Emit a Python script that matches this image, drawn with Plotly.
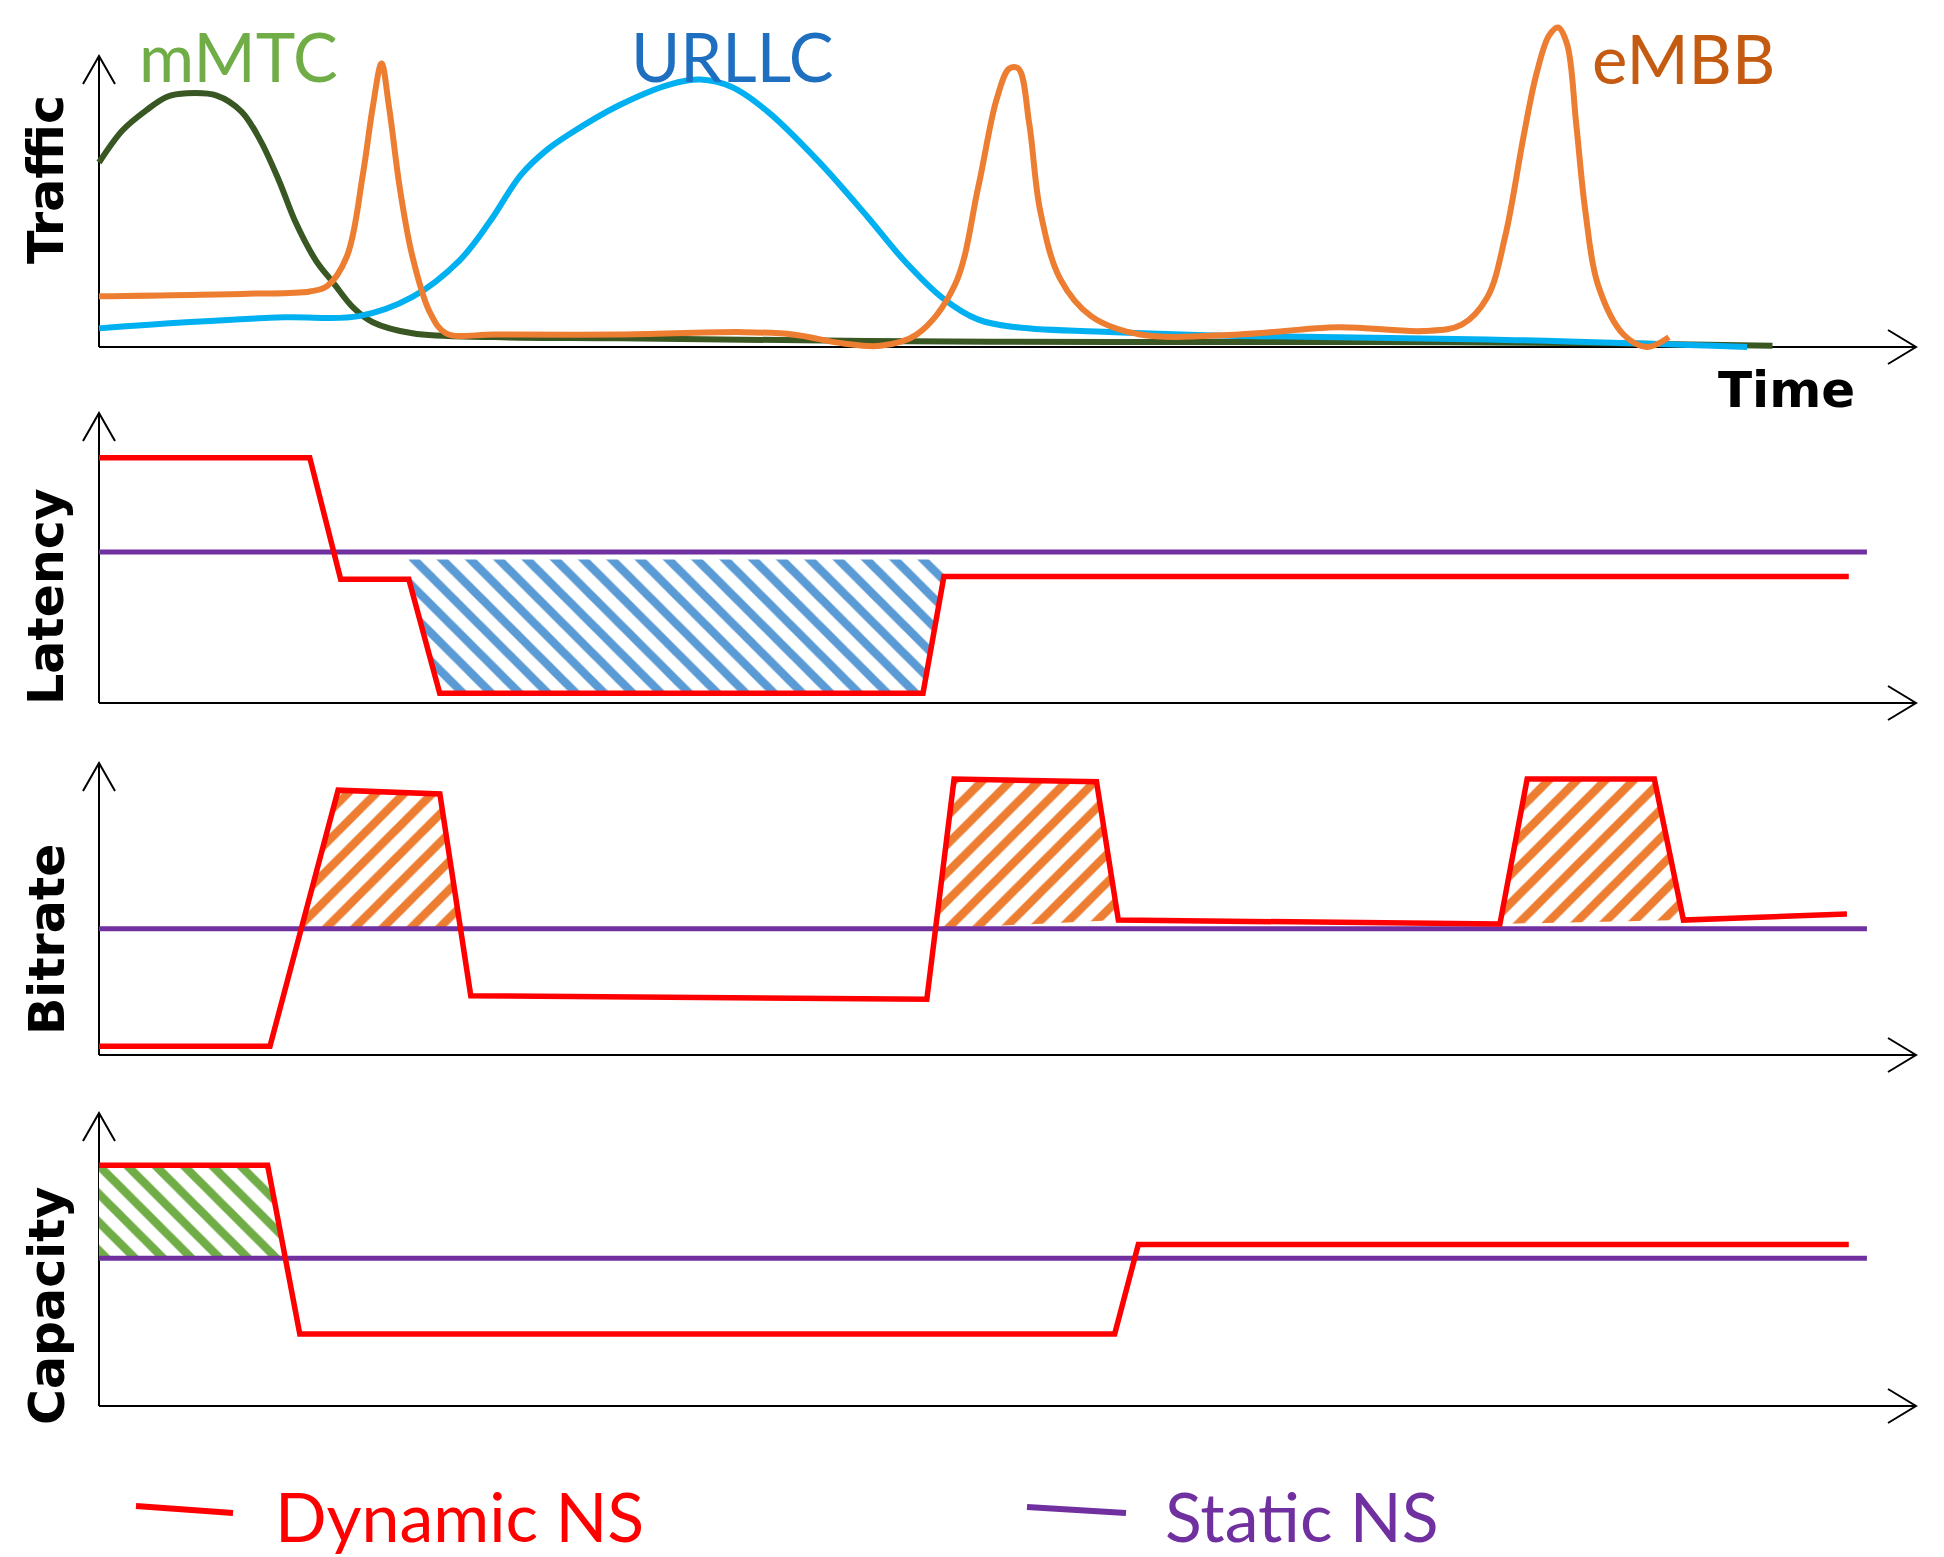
import numpy as np
import plotly.graph_objects as go

W, H = 1944, 1557

# ---------------- data (time units: 0 = vertical axis, 100 = arrow tip) ----------------
# Traffic panel (relative traffic, 10 = top of vertical axis)
MMTC_T = [0, 1.30, 2.59, 3.75, 4.84, 6.48, 7.84, 8.87, 9.89, 10.84, 11.93, 12.89, 13.98, 15.07, 17.25, 21.8, 28.6, 42.3, 55.9, 69.6, 83.2, 92.1]
MMTC_V = [6.34, 7.45, 8.13, 8.60, 8.72, 8.64, 8.09, 7.11, 5.74, 4.26, 2.98, 2.21, 1.36, 0.85, 0.47, 0.34, 0.30, 0.21, 0.17, 0.17, 0.13, 0.04]

URLLC_T = [0, 4.77, 10.2, 14.3, 17.25, 19.85, 21.5, 23.2, 24.6, 25.9, 28.6, 31.4, 33.1, 34.8, 36.8, 39.6, 42.3, 44.3, 46.4, 48.4, 50.5, 55.9, 62.7, 76.4, 90.7]
URLLC_V = [0.64, 0.85, 1.02, 1.06, 1.72, 2.98, 4.30, 5.90, 6.75, 7.32, 8.30, 9.02, 9.19, 8.94, 8.09, 6.38, 4.47, 2.98, 1.70, 0.94, 0.68, 0.51, 0.38, 0.26, 0.0]

EMBB_T = [0, 8.18, 11.6, 12.55, 13.64, 14.53, 15.07, 15.55, 15.96, 16.57, 17.25, 18.21, 19.10, 21.8, 28.6, 35.5, 38.2, 40.9, 43.0,
          45.0, 47.1, 48.4, 49.4, 50.1, 50.6, 51.2, 51.8, 52.9, 54.6, 57.3, 62.7, 68.2, 72.9, 75.0,
          76.4, 77.4, 78.4, 79.1, 79.8, 80.3, 80.8, 81.3, 81.8, 82.5, 83.9, 85.2, 86.4]
EMBB_V = [1.74, 1.83, 1.91, 2.09, 3.11, 5.96, 8.26, 9.74, 8.26, 5.40, 3.11, 1.19, 0.47, 0.43, 0.43, 0.51, 0.43, 0.13, 0.04,
          0.43, 2.13, 5.53, 8.51, 9.57, 9.57, 7.66, 4.68, 2.34, 1.06, 0.43, 0.43, 0.68, 0.55, 0.77,
          1.70, 3.83, 7.23, 9.36, 10.7, 10.98, 10.4, 7.66, 4.68, 2.13, 0.43, 0.0, 0.34]

# Latency panel
LAT_DYN_T = [0, 11.6, 13.3, 17.05, 18.75, 45.35, 46.5, 96.3]
LAT_DYN_V = [8.46, 8.46, 4.27, 4.27, 0.34, 0.34, 4.36, 4.36]
LAT_STATIC = 5.21
LAT_HATCH = [(17.05, 46.5, 4.95)]          # (start, end, closing level)

# Bitrate panel
BIT_DYN_T = [0, 9.41, 13.16, 18.76, 20.46, 45.56, 47.06, 54.9, 56.1, 77.1, 78.6, 85.6, 87.2, 96.2]
BIT_DYN_V = [0.30, 0.30, 9.07, 8.94, 2.03, 1.91, 9.45, 9.36, 4.62, 4.49, 9.45, 9.45, 4.62, 4.83]
BIT_STATIC = 4.32
BIT_HATCH = [(11.13, 19.9, None), (46.04, 56.1, None), (77.1, 87.2, None)]

# Capacity panel
CAP_DYN_T = [0, 9.28, 11.05, 55.9, 57.2, 96.3]
CAP_DYN_V = [8.22, 8.22, 2.46, 2.46, 5.51, 5.51]
CAP_STATIC = 5.04
CAP_HATCH = [(0, 10.26, 5.04)]

STATIC_END = 97.3
SLICE_LABELS = ["mMTC", "URLLC", "eMBB"]
PANEL_TITLES = ["Traffic", "Latency", "Bitrate", "Capacity"]
LEGEND_LABELS = ["Dynamic NS", "Static NS"]

# ---------------- colours / styles ----------------
RED = "#ff0000"
PURPLE = "#7030a0"
C_MMTC, C_URLLC, C_EMBB = "#385723", "#00b0f0", "#ed7d31"
L_MMTC, L_URLLC, L_EMBB = "#70ad47", "#1f6fc0", "#c55a11"

# ---------------- geometry (pixels) ----------------
X0_PX, XTIP_PX, XMAX = 99, 1916, 100.0
PPX = (XTIP_PX - X0_PX) / XMAX
XRANGE = [-X0_PX / PPX, (W - X0_PX) / PPX]

PANELS = [  # baseline px, arrow tip px, band top px, band bottom px
    dict(base=347, tip=56, top=0, bottom=400),
    dict(base=703, tip=413, top=400, bottom=745),
    dict(base=1055, tip=763, top=745, bottom=1095),
    dict(base=1406, tip=1113, top=1095, bottom=1445),
]


def px(xp):
    return xp / W


def py(yp):
    return 1 - yp / H


fig = go.Figure()
layout_axes = {}
shapes = []
for i, p in enumerate(PANELS, start=1):
    ppu = (p["base"] - p["tip"]) / 10.0
    yr = [(p["base"] - p["bottom"]) / ppu, (p["base"] - p["top"]) / ppu]
    sfx = "" if i == 1 else str(i)
    layout_axes["xaxis" + sfx] = dict(domain=[0, 1], range=XRANGE, visible=False, anchor="y" + sfx, fixedrange=True)
    layout_axes["yaxis" + sfx] = dict(domain=[py(p["bottom"]), py(p["top"])], range=yr, visible=False,
                                      anchor="x" + sfx, fixedrange=True)
    xr, yrf = "x" + sfx, "y" + sfx
    ax_line = dict(color="black", width=2)
    shapes.append(dict(type="line", xref=xr, yref=yrf, x0=0, y0=0, x1=XMAX, y1=0, line=ax_line, layer="below"))
    shapes.append(dict(type="line", xref=xr, yref=yrf, x0=0, y0=0, x1=0, y1=10, line=ax_line, layer="below"))
    shapes.append(dict(type="path", xref=xr, yref=yrf, xsizemode="pixel", ysizemode="pixel",
                       xanchor=XMAX, yanchor=0, path="M -28,17 L 0,0 L -28,-17", line=ax_line))
    shapes.append(dict(type="path", xref=xr, yref=yrf, xsizemode="pixel", ysizemode="pixel",
                       xanchor=0, yanchor=10, path="M -16,-28 L 0,0 L 16,-28", line=ax_line))


def line(x, y, color, width, ax, shape="linear"):
    fig.add_trace(go.Scatter(x=x, y=y, mode="lines", line=dict(color=color, width=width, shape=shape,
                                                               smoothing=1.0 if shape == "spline" else None),
                             xaxis="x" + ax, yaxis="y" + ax, hoverinfo="skip", showlegend=False))


def hatch(T, V, windows, color, pshape, ax):
    for a, b, level in windows:
        xs = [a] + [t for t in T if a < t < b] + [b]
        ys = list(np.interp(xs, T, V))
        if level is not None:
            xs += [b, a]
            ys += [level, level]
        fig.add_trace(go.Scatter(x=xs, y=ys, mode="lines", line=dict(width=0), fill="toself",
                                 fillpattern=dict(shape=pshape, fgcolor=color, bgcolor="white",
                                                  size=20, solidity=0.42, fillmode="replace"),
                                 xaxis="x" + ax, yaxis="y" + ax, hoverinfo="skip", showlegend=False))


# Traffic
line(MMTC_T, MMTC_V, C_MMTC, 6, "", "spline")
line(URLLC_T, URLLC_V, C_URLLC, 6, "", "spline")
line(EMBB_T, EMBB_V, C_EMBB, 6, "", "spline")

# Latency
hatch(LAT_DYN_T, LAT_DYN_V, LAT_HATCH, "#5b9bd5", "\\", "2")
line([0, STATIC_END], [LAT_STATIC, LAT_STATIC], PURPLE, 5, "2")
line(LAT_DYN_T, LAT_DYN_V, RED, 5.5, "2")

# Bitrate
hatch(BIT_DYN_T, BIT_DYN_V, BIT_HATCH, "#ed7d31", "/", "3")
line([0, STATIC_END], [BIT_STATIC, BIT_STATIC], PURPLE, 5, "3")
line(BIT_DYN_T, BIT_DYN_V, RED, 5.5, "3")

# Capacity
hatch(CAP_DYN_T, CAP_DYN_V, CAP_HATCH, "#70ad47", "\\", "4")
line([0, STATIC_END], [CAP_STATIC, CAP_STATIC], PURPLE, 5, "4")
line(CAP_DYN_T, CAP_DYN_V, RED, 5.5, "4")

annotations = []
LABEL_FONT = "Lato"
for txt, col, xc, yc in zip(SLICE_LABELS, [L_MMTC, L_URLLC, L_EMBB], [238, 732, 1683], [56, 56, 58]):
    annotations.append(dict(text=txt, x=px(xc), y=py(yc), xref="paper", yref="paper", showarrow=False,
                            xanchor="center", yanchor="middle", font=dict(family=LABEL_FONT, size=67, color=col)))

for txt, yc in zip(PANEL_TITLES, [180, 597, 940, 1306]):
    annotations.append(dict(text="<b>" + txt + "</b>", x=px(47), y=py(yc), xref="paper", yref="paper",
                            showarrow=False, textangle=-90, xanchor="center", yanchor="middle",
                            font=dict(family="DejaVu Sans", size=49, color="black")))

annotations.append(dict(text="<b>Time</b>", x=px(1786), y=py(390), xref="paper", yref="paper", showarrow=False,
                        xanchor="center", yanchor="middle", font=dict(family="DejaVu Sans", size=50, color="black")))

# Legend
for (lx0, ly0, lx1, ly1), col, txt, tx in zip([(136, 1506, 233, 1513), (1027, 1507, 1126, 1513)],
                                               [RED, PURPLE], LEGEND_LABELS, [273, 1163]):
    shapes.append(dict(type="line", xref="paper", yref="paper", x0=px(lx0), y0=py(ly0), x1=px(lx1), y1=py(ly1),
                       line=dict(color=col, width=6)))
    annotations.append(dict(text=txt, x=px(tx), y=py(1515), xref="paper", yref="paper", showarrow=False,
                            xanchor="left", yanchor="middle", font=dict(family=LABEL_FONT, size=68, color=col)))

fig.update_layout(width=W, height=H, margin=dict(l=0, r=0, t=0, b=0), paper_bgcolor="white",
                  plot_bgcolor="rgba(0,0,0,0)", shapes=shapes, annotations=annotations, showlegend=False,
                  **layout_axes)

fig.write_html("out.html", config={"displayModeBar": False},
               post_script="document.body.style.margin='0';document.body.style.overflow='hidden';")
